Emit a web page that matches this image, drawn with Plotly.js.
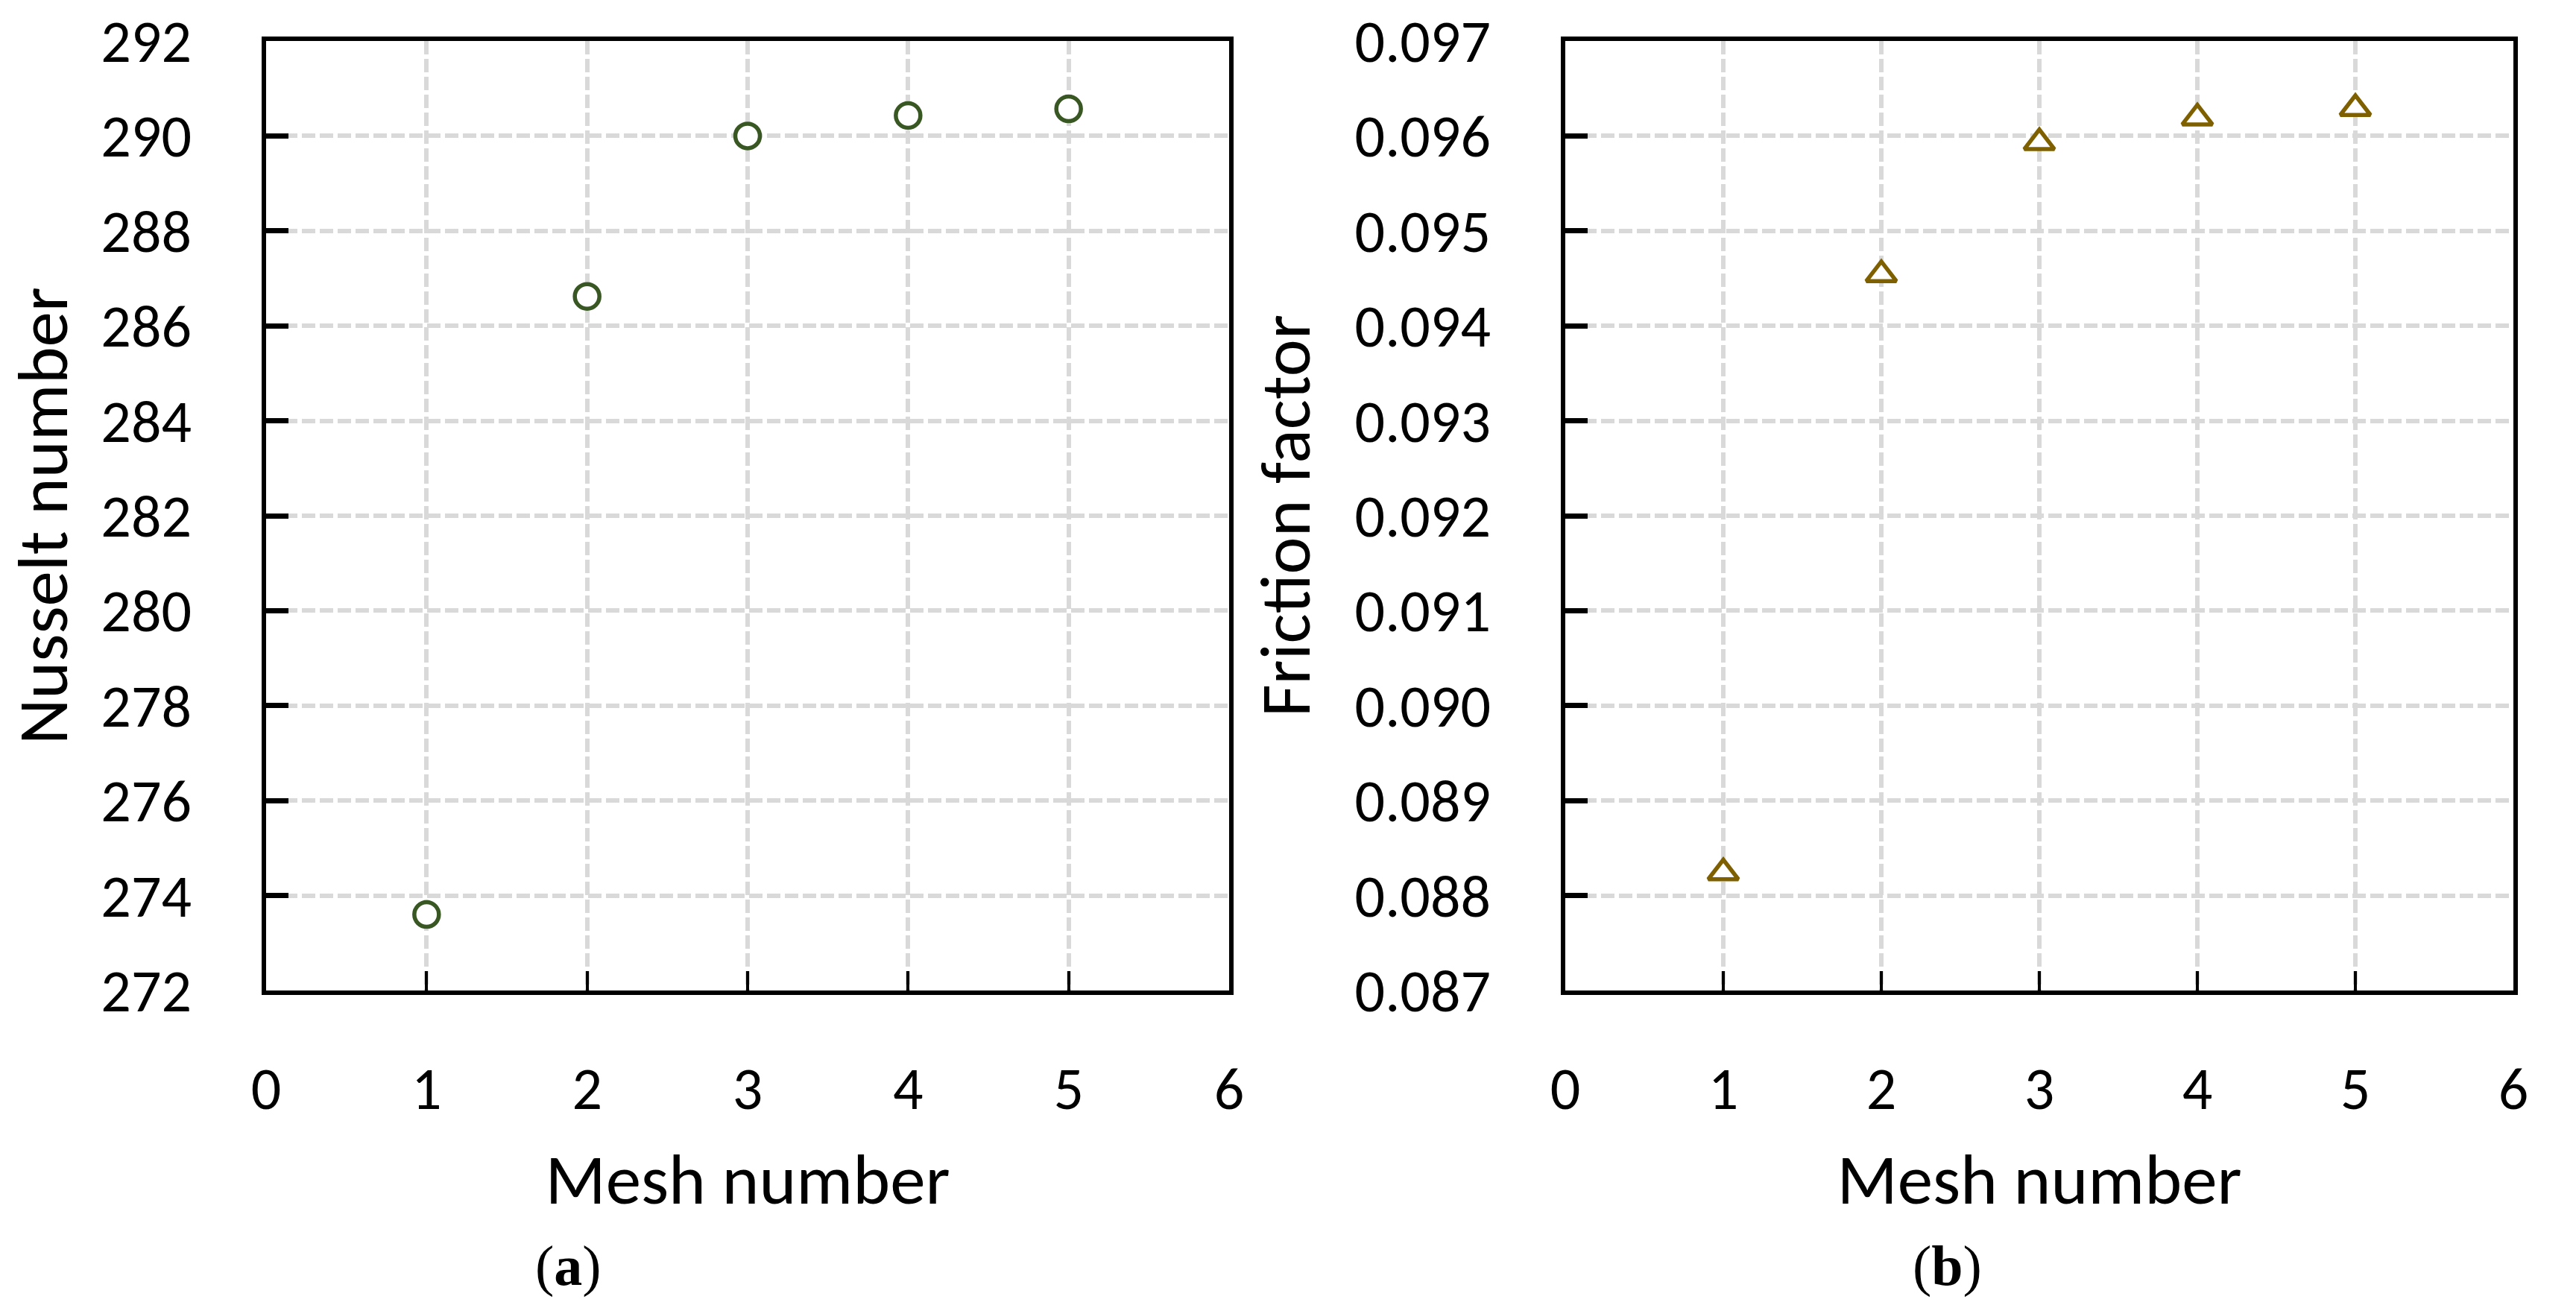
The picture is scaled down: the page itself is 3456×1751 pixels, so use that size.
<!DOCTYPE html>
<html>
<head>
<meta charset="utf-8">
<script src="https://cdn.plot.ly/plotly-3.0.1.min.js"></script>
<style>html,body{margin:0;padding:0;background:#fff;}#chart{width:3456px;height:1751px;}</style>
</head>
<body>
<div id="chart"></div>
<script>
// Data
const meshNumbers = [1, 2, 3, 4, 5];
const nusseltValues = [273.6, 286.62, 290.0, 290.43, 290.57];
const frictionValues = [0.08824, 0.09454, 0.09593, 0.09619, 0.09629];
const xTickVals = [0, 1, 2, 3, 4, 5, 6];
const nuTickVals = [272, 274, 276, 278, 280, 282, 284, 286, 288, 290, 292];
const fTickVals = [0.087, 0.088, 0.089, 0.090, 0.091, 0.092, 0.093, 0.094, 0.095, 0.096, 0.097];
const fTickText = fTickVals.map(v => v.toFixed(3));

const FONT = 'Carlito, Lato, sans-serif';
const TICKFONT = {family: FONT, size: 80, color: '#000'};
const TITLEFONT = {family: FONT, size: 95, color: '#000'};

const W = 3456, H = 1751;
const px = v => v / W;
const py = v => 1 - v / H;

function xAxis(domain) {
  return {
    domain: domain, range: [0, 6], tickvals: xTickVals, ticks: 'inside', ticklen: 26, tickwidth: 4,
    tickcolor: '#000', showline: true, linecolor: '#000', linewidth: 6, mirror: true,
    showgrid: true, gridcolor: '#d9d9d9', gridwidth: 6, griddash: '18px,6px',
    zeroline: false, tickfont: TICKFONT, ticklabelstandoff: 57,
    title: {text: 'Mesh number', font: TITLEFONT, standoff: 42}, automargin: false
  };
}
function yAxis(domain, range, tickvals, ticktext, title, anchor) {
  const a = {
    domain: domain, range: range, tickvals: tickvals, ticks: 'inside', ticklen: 30, tickwidth: 7,
    tickcolor: '#000', showline: true, linecolor: '#000', linewidth: 6, mirror: true,
    showgrid: true, gridcolor: '#d9d9d9', gridwidth: 6, griddash: '18px,6px',
    zeroline: false, tickfont: TICKFONT, ticklabelstandoff: 78, anchor: anchor,
    title: {text: title, font: TITLEFONT, standoff: 30}, automargin: false
  };
  if (ticktext) a.ticktext = ticktext;
  return a;
}

const yDom = [py(1329), py(55)];

const data = [
  {
    x: meshNumbers, y: nusseltValues, type: 'scatter', mode: 'markers', xaxis: 'x', yaxis: 'y',
    marker: {symbol: 'circle', size: 33, color: '#ffffff', line: {color: '#385723', width: 5.5}},
    showlegend: false, cliponaxis: false
  },
  {
    x: meshNumbers, y: frictionValues, type: 'scatter', mode: 'markers', xaxis: 'x2', yaxis: 'y2',
    marker: {symbol: 'triangle-up', size: 35, color: '#ffffff', line: {color: '#7F6000', width: 5.5}},
    showlegend: false, cliponaxis: false
  }
];

const layout = {
  width: W, height: H,
  margin: {l: 0, r: 0, t: 0, b: 0},
  paper_bgcolor: '#fff', plot_bgcolor: '#fff',
  xaxis: Object.assign(xAxis([px(357), px(1649)]), {anchor: 'y'}),
  yaxis: yAxis(yDom, [272, 292], nuTickVals, null, 'Nusselt number', 'x'),
  xaxis2: Object.assign(xAxis([px(2100), px(3372)]), {anchor: 'y2'}),
  yaxis2: yAxis(yDom, [0.087, 0.097], fTickVals, fTickText, 'Friction factor', 'x2'),
  annotations: [
    {text: '(<b>a</b>)', xref: 'paper', yref: 'paper', x: px(762), y: py(1698), showarrow: false,
     xanchor: 'center', yanchor: 'middle', font: {family: 'Liberation Serif, serif', size: 76, color: '#000'}},
    {text: '(<b>b</b>)', xref: 'paper', yref: 'paper', x: px(2612), y: py(1698), showarrow: false,
     xanchor: 'center', yanchor: 'middle', font: {family: 'Liberation Serif, serif', size: 76, color: '#000'}}
  ]
};

Plotly.newPlot('chart', data, layout, {staticPlot: true, displayModeBar: false});
</script>
</body>
</html>
